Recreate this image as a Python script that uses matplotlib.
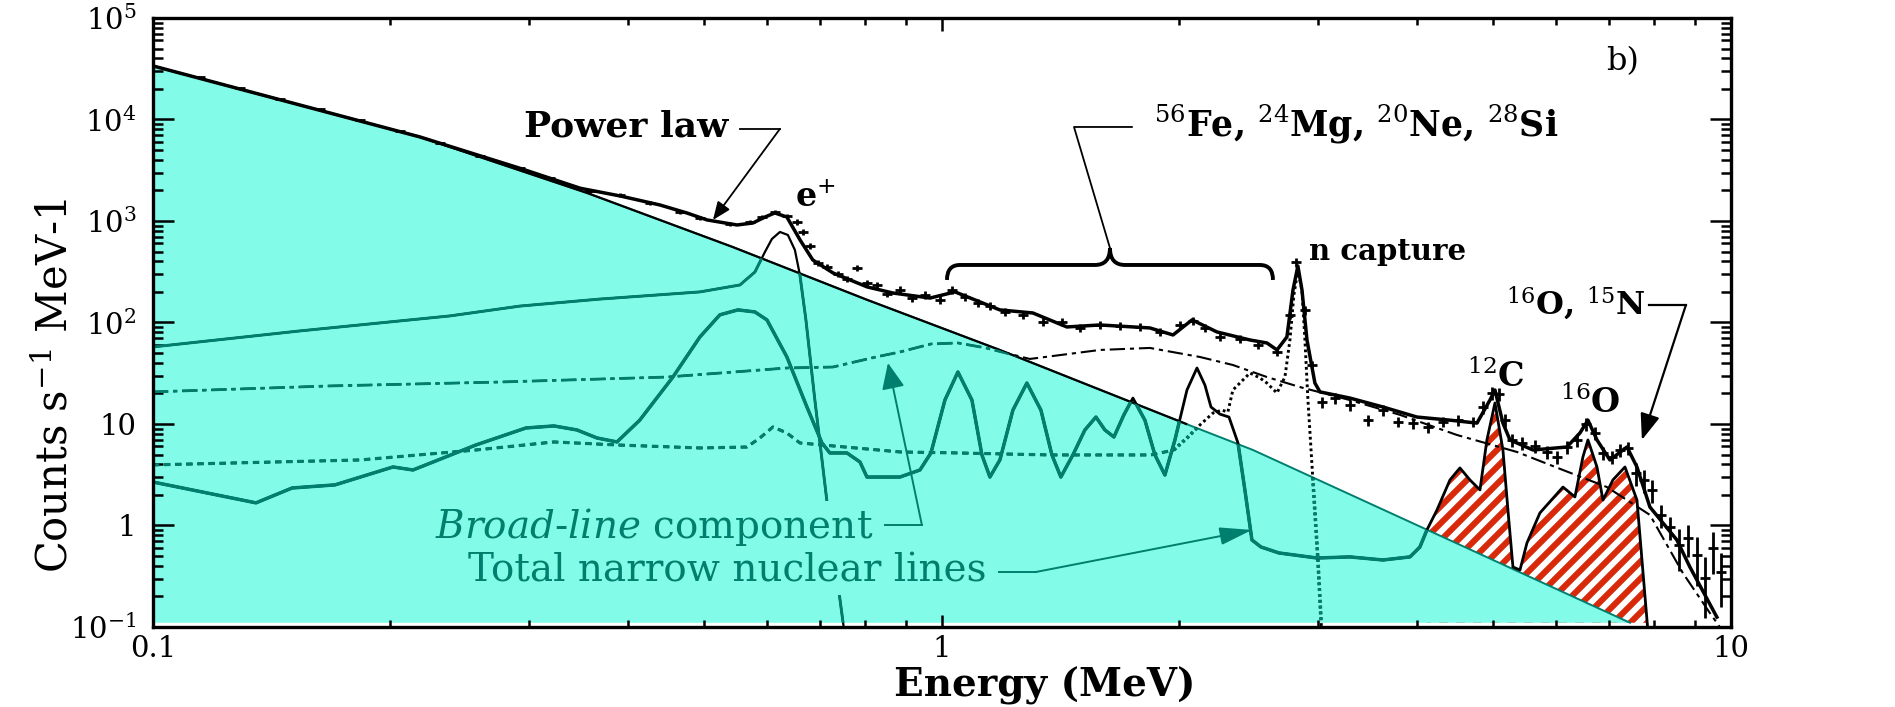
import numpy as np
import matplotlib
matplotlib.use('Agg')
import matplotlib.pyplot as plt
from matplotlib.patches import Polygon, PathPatch
from matplotlib.path import Path
from matplotlib.collections import LineCollection
import matplotlib.ticker as mticker

plt.rcParams.update({
    'font.family': 'DejaVu Serif',
    'mathtext.fontset': 'dejavuserif',
    'lines.scale_dashes': False,
})

CYAN = '#82fce8'
TEAL = '#007f6e'
RED = '#d8290b'

# power-law continuum
pl_E = [0.1, 0.218, 0.355, 0.543, 0.804, 1.184, 2.04, 2.479, 7.45]
pl_c = [33700, 6725, 1888, 554, 167, 53.6, 10.0, 5.54, 0.11]

# total fitted model
tot_E = [0.1, 0.218, 0.292, 0.348, 0.391, 0.439, 0.475, 0.504, 0.550, 0.576,
         0.597, 0.614, 0.636, 0.661, 0.686, 0.728, 0.804, 0.867, 0.966, 1.039,
         1.101, 1.184, 1.304, 1.440, 1.586, 1.835, 1.963, 2.075, 2.232, 2.457,
         2.582, 2.659, 2.737, 2.786, 2.826, 2.860, 2.902, 2.970, 3.014, 3.289,
         3.622, 4.000, 4.405, 4.766, 4.950, 5.023, 5.141, 5.248, 5.612, 6.197,
         6.437, 6.589, 6.765, 7.025, 7.384, 7.602, 7.895, 8.541, 8.872, 9.599]
tot_c = [33700, 6725, 3300, 2100, 1763, 1438, 1199, 1023, 913, 955,
         1095, 1199, 1095, 650, 413, 307, 224, 195, 174, 200,
         167, 133, 124, 90.3, 94.5, 88.3, 75.3, 106, 80.6, 67.2,
         62.8, 53.6, 72.0, 209, 360, 209, 67.2, 25.3, 20.7, 18.0,
         14.7, 11.7, 10.9, 10.2, 17.2, 21.6, 10.2, 6.96, 5.54, 5.93,
         8.15, 10.9, 6.96, 4.42, 5.93, 3.77, 1.52, 0.720, 0.390, 0.125]

# measured spectrum
dat_E = [0.1147, 0.1289, 0.1449, 0.1628, 0.1830, 0.2056, 0.2311, 0.2597, 0.2918, 0.3186,
         0.3580, 0.3908, 0.4265, 0.4654, 0.4935, 0.5386, 0.5711, 0.5914, 0.6142, 0.6361,
         0.6549, 0.6665, 0.6803, 0.6963, 0.7149, 0.7383, 0.7580, 0.7804, 0.8035, 0.8273, 0.8518,
         0.8848, 0.9164, 0.9517, 0.9942, 1.0297, 1.0696, 1.1108, 1.1504, 1.2017, 1.2667,
         1.3428, 1.4193, 1.4958, 1.5861, 1.6812, 1.7824, 1.8890, 2.0030, 2.0800, 2.1544,
         2.2510, 2.3862, 2.5148, 2.6585,
         2.7612, 2.8099, 2.8848, 2.9438,
         3.0312, 3.1486, 3.2885, 3.4674, 3.6223, 3.7838, 3.9536, 4.1305, 4.3152, 4.5082, 4.7098,
         4.8494, 4.9783, 5.0816, 5.1714, 5.2776, 5.4340, 5.6440, 5.8449, 6.0181, 6.1967,
         6.3802, 6.5497, 6.7239, 6.8839, 7.0659, 7.2326, 7.4040,
         7.5784, 7.7568, 7.9413, 8.1525, 8.3696,
         8.5918, 8.8205, 9.0551, 9.2683, 9.4885, 9.7120]
dat_c = [26230, 20430, 15920, 12690, 9888, 7703, 5868, 4370, 3327, 2652,
         1975, 1804, 1504, 1226, 1071, 934, 978, 1095, 1226, 1120,
         978, 779, 567, 386, 352, 300, 268, 344, 245, 234, 191,
         209, 174, 187, 167, 209, 178, 156, 145, 127, 119,
         101, 101, 88.3, 94.5, 92.4, 90.3, 80.6, 94.5, 103.5, 88.3,
         72.0, 68.8, 60.0, 51.2,
         119, 395, 133, 38.1,
         16.5, 18.0, 15.4, 10.9, 13.7, 10.5, 10.2, 9.34, 10.5, 10.9, 10.5,
         14.7, 20.2, 19.8, 10.9, 6.96, 6.50, 6.07, 5.30, 4.73, 5.93,
         6.96, 10.0, 8.15, 5.18, 4.73, 5.54, 5.80,
         3.29, 2.81, 2.24, 1.27, 0.967,
         0.643, 0.753, 0.512, 0.304, 0.600, 0.348]
dat_rel = [0.03] * 10 + [0.05] * 10 + [0.07] * 11 + [0.09] * 24 + [0.10] * 4 \
          + [0.12] * 11 + [0.15] * 17 + [0.25] * 5 + [0.45, 0.35, 0.5, 0.6, 0.45, 0.55]

# total narrow nuclear lines
nar_E = [0.1, 0.1351, 0.1501, 0.1701, 0.2015, 0.2136, 0.2567, 0.2970, 0.3223, 0.3447,
         0.3654, 0.3874, 0.4140, 0.4561, 0.4935, 0.5231, 0.5514, 0.5794, 0.6001, 0.6361,
         0.6744, 0.7046, 0.7211, 0.7580, 0.7873, 0.8035, 0.8848, 0.9379, 0.9685, 1.0088,
         1.0478, 1.0916, 1.1239, 1.1504, 1.1844, 1.2303, 1.2814, 1.3350, 1.3786, 1.4150,
         1.4655, 1.5178, 1.5676, 1.6091, 1.6520, 1.7008, 1.7462, 1.8083, 1.8621, 1.9171,
         1.9739, 2.0445, 2.1051, 2.1544, 2.1929, 2.2510, 2.3112, 2.3727, 2.4210, 2.4714,
         2.5371, 2.6740, 2.9878, 3.2885, 3.6223, 3.9195, 4.0351, 4.1185, 4.2408, 4.4049,
         4.5347, 4.6694, 4.8079, 4.9065, 5.0229, 5.1413, 5.2168, 5.2937, 5.4033, 5.5144,
         5.7277, 6.1257, 6.3434, 6.4931, 6.5890, 6.7646, 6.8839, 7.0871, 7.3410, 7.6022,
         7.8498]
nar_c = [2.68, 1.67, 2.34, 2.51, 3.77, 3.52, 6.21, 9.13, 9.56, 8.73,
         7.28, 6.65, 10.9, 29.0, 72.0, 119, 133, 127, 106, 45.7,
         14.7, 6.50, 5.18, 5.18, 4.22, 3.00, 3.00, 3.52, 5.18, 17.2,
         32.5, 17.2, 4.95, 3.00, 4.42, 13.7, 25.3, 13.7, 4.95, 3.00,
         4.95, 8.73, 11.7, 8.73, 7.44, 12.3, 18.0, 10.9, 4.95, 3.14,
         6.96, 21.6, 35.6, 24.2, 14.7, 12.5, 11.7, 6.50, 2.24, 0.720,
         0.614, 0.536, 0.478, 0.490, 0.457, 0.490, 0.614, 0.903, 1.42, 2.81,
         3.69, 2.81, 2.24, 6.96, 16.1, 5.54, 1.42, 0.390, 0.364, 0.672,
         1.33, 2.39, 1.91, 4.73, 6.96, 3.77, 1.78, 2.81, 3.77, 1.78,
         0.09]

# positronium continuum + 511 keV line
pos_E = [0.1, 0.1535, 0.2379, 0.2918, 0.3685, 0.4935, 0.5546, 0.5794, 0.5966, 0.6089,
         0.6233, 0.6379, 0.6511, 0.6607, 0.6724, 0.6902, 0.7171, 0.7536]
pos_c = [57.4, 82.5, 116, 145, 170, 200, 234, 314, 495, 665,
         779, 728, 518, 294, 106, 17.2, 1.42, 0.08]

# broad-line component
brd_E = [0.1, 0.1677, 0.2754, 0.4482, 0.6361, 0.7276, 0.8249, 0.8848, 0.9685, 1.0478,
         1.1371, 1.2926, 1.5861, 1.8350, 2.1233, 2.3377, 2.5819, 2.8430, 3.2885, 3.8066,
         4.4954, 5.3551, 6.1257, 6.9640, 7.8954, 8.6919, 9.4068, 10.0]
brd_c = [20.7, 23.7, 25.9, 29.0, 35.6, 36.4, 45.7, 51.2, 61.4, 62.8,
         56.1, 43.7, 53.6, 56.1, 45.7, 38.1, 29.0, 23.1, 17.2, 12.3,
         7.79, 5.30, 3.52, 2.39, 1.27, 0.340, 0.137, 0.07]

# dashed / dotted component ending in the n-capture line
dot_E = [0.1, 0.1830, 0.2567, 0.3223, 0.3874, 0.4935, 0.5661, 0.5879, 0.6107, 0.6361,
         0.6607, 0.8848, 1.0478, 1.3704, 1.8405, 1.9679, 2.0507, 2.1233, 2.2055, 2.2638,
         2.3037, 2.3377, 2.4573, 2.5295, 2.5819, 2.6585, 2.7211, 2.7612, 2.7933, 2.8263,
         2.8596, 2.8848, 2.9102, 2.9527, 2.9962, 3.0312]
dot_c = [3.95, 4.42, 5.54, 6.65, 6.21, 5.80, 5.93, 7.28, 9.34, 8.15,
         6.50, 5.30, 5.18, 4.95, 4.95, 5.54, 7.44, 9.77, 12.8, 13.7,
         13.1, 21.6, 31.8, 28.4, 25.3, 20.2, 29.0, 67.2, 187, 329,
         209, 67.2, 17.2, 2.81, 0.457, 0.08]

ytick_vals = [1e-1, 1, 10, 1e2, 1e3, 1e4, 1e5]
ytick_labels = [r'$10^{-1}$', '1', '10', r'$10^{2}$', r'$10^{3}$', r'$10^{4}$', r'$10^{5}$']
xtick_vals = [0.1, 1, 10]
xtick_labels = ['0.1', '1', '10']

fig = plt.figure(figsize=(18.95, 7.07), dpi=100)
ax = fig.add_axes([0.0807, 0.1132, 0.8327, 0.8614])
ax.set_xscale('log')
ax.set_yscale('log')
ax.set_xlim(0.1, 10)
ax.set_ylim(0.1, 1e5)

# 12C / 16O lines above the continuum: white area with red stripes
nE = np.array(nar_E)
nc = np.array(nar_c)
sel = nE >= 4.1
hfill = ax.fill_between(nE[sel], nc[sel], 0.11, facecolor='white', edgecolor='none',
                        zorder=1)
offs = np.arange(-8.0, 19.5, 0.17)
stripes = LineCollection([[(o, 0.0), (o + 7.5, 7.5)] for o in offs], colors=RED,
                         linewidths=4.4, transform=fig.dpi_scale_trans, zorder=1.1)
ax.add_collection(stripes, autolim=False)
stripes.set_clip_path(hfill.get_paths()[0], hfill.get_transform())

# cyan power-law area
cyan = Polygon(np.column_stack([pl_E + [pl_E[0]], pl_c + [0.11]]), closed=True,
               facecolor=CYAN, edgecolor='none', zorder=1.5)
ax.add_patch(cyan)
ax.plot(pl_E, pl_c, color=TEAL, lw=1.4, zorder=1.6)
ax.plot(pl_E[:7], pl_c[:7], color='black', lw=1.6, zorder=2.2)


def two_tone(x, y, lw, z, **kw):
    # black outside the cyan area, teal inside it
    ax.plot(x, y, color='black', lw=lw, zorder=z, **kw)
    t, = ax.plot(x, y, color=TEAL, lw=lw + 0.5, zorder=z + 0.01, **kw)
    t.set_clip_path(cyan)


two_tone(brd_E, brd_c, 1.5, 2.5, dashes=(11, 3.5, 3, 3.5))
two_tone(dot_E[:16], dot_c[:16], 1.8, 2.6, dashes=(4.5, 3.5))
two_tone(dot_E[15:], dot_c[15:], 2.1, 2.6, dashes=(2, 2.2))
two_tone(pos_E, pos_c, 1.6, 2.7)
two_tone(nar_E, nar_c, 2.0, 2.8)

ax.plot(tot_E, tot_c, color='black', lw=2.5, zorder=4)
dE = np.array(dat_E)
dc = np.array(dat_c)
ax.errorbar(dE, dc, xerr=dE * 0.015, yerr=dc * np.array(dat_rel), fmt='none',
            ecolor='black', elinewidth=2.0, capsize=0, zorder=4)

# axes styling
ax.set_yticks(ytick_vals)
ax.set_yticklabels(ytick_labels)
ax.set_xticks(xtick_vals)
ax.set_xticklabels(xtick_labels)
ax.xaxis.set_minor_formatter(mticker.NullFormatter())
ax.yaxis.set_minor_formatter(mticker.NullFormatter())
ax.tick_params(which='both', direction='in', top=True, right=True, width=1.8)
ax.tick_params(axis='y', which='major', length=15, pad=12, labelsize=21)
ax.tick_params(axis='y', which='minor', length=7)
ax.tick_params(axis='x', which='major', length=9, pad=6, labelsize=21)
ax.tick_params(axis='x', which='minor', length=5)
for s in ax.spines.values():
    s.set_linewidth(2.4)
    s.set_zorder(7)

ax.set_xlabel('Energy (MeV)', fontsize=28, fontweight='bold', va='baseline')
ax.xaxis.set_label_coords(0.565, -0.1149)
ax.set_ylabel(r'Counts s$^{-1}$ MeV-1', fontsize=30, va='center', ha='center')
ax.yaxis.set_label_coords(-0.062, 0.397)

# labels
tk = dict(transform=ax.transAxes, zorder=8)
ax.text(0.3644, 0.8046, 'Power law', ha='right', va='baseline', fontsize=26,
        fontweight='bold', **tk)
ax.text(0.4068, 0.6897, r'e$^{+}$', ha='left', va='baseline', fontsize=24,
        fontweight='bold', **tk)
ax.text(0.6343, 0.8046, r'$^{56}$Fe, $^{24}$Mg, $^{20}$Ne, $^{28}$Si', ha='left',
        va='baseline', fontsize=25, fontweight='bold', **tk)
ax.text(0.7326, 0.6026, 'n capture', ha='left', va='baseline', fontsize=21,
        fontweight='bold', **tk)
ax.text(0.8511, 0.3941, r'$^{12}$C', ha='center', va='baseline', fontsize=24,
        fontweight='bold', **tk)
ax.text(0.9106, 0.3514, r'$^{16}$O', ha='center', va='baseline', fontsize=24,
        fontweight='bold', **tk)
ax.text(0.9455, 0.5123, r'$^{16}$O, $^{15}$N', ha='right', va='baseline', fontsize=23,
        fontweight='bold', **tk)
ax.text(0.9208, 0.9146, 'b)', ha='left', va='baseline', fontsize=23, **tk)
box = dict(boxstyle='square,pad=0.12', facecolor=CYAN, edgecolor='none')
ax.text(0.4563, 0.1461, r'$\mathit{Broad}$-$\mathit{line}$ component', ha='right',
        va='baseline', fontsize=28, color=TEAL, bbox=box, **tk)
ax.text(0.5285, 0.0739, 'Total narrow nuclear lines', ha='right', va='baseline',
        fontsize=28, color=TEAL, bbox=box, **tk)


def leader(pts, tip, color, lw, hl, hw):
    xs, ys = zip(*pts)
    ax.plot(xs, ys, color=color, lw=lw, transform=ax.transAxes, zorder=8)
    ax.annotate('', xy=tip, xycoords='axes fraction', xytext=pts[-1],
                textcoords='axes fraction', zorder=8,
                arrowprops=dict(arrowstyle='-|>,head_length=%g,head_width=%g' % (hl, hw),
                                color=color, lw=lw, shrinkA=0, shrinkB=0))


leader([(0.3720, 0.8177), (0.3973, 0.8177)], (0.3549, 0.6683), 'black', 1.3, 1.1, 0.45)
leader([(0.9480, 0.5287), (0.9715, 0.5287)], (0.9436, 0.3071), 'black', 1.6, 1.6, 0.6)
leader([(0.4639, 0.1675), (0.4873, 0.1675)], (0.4658, 0.4335), TEAL, 1.4, 1.6, 0.7)
leader([(0.5361, 0.0903), (0.5596, 0.0903)], (0.6965, 0.1593), TEAL, 1.4, 2.0, 0.55)
ax.plot([0.6065, 0.5837, 0.6204], [0.6223, 0.8210, 0.8210], color='black', lw=1.3,
        transform=ax.transAxes, zorder=8)

# curly brace over the Fe/Mg/Ne/Si lines
bx = [0.5032, 0.5032, 0.5114, 0.5970, 0.6065, 0.6065, 0.6065, 0.6160, 0.7015, 0.7098, 0.7098]
by = [0.5698, 0.5944, 0.5944, 0.5944, 0.5944, 0.6223, 0.5944, 0.5944, 0.5944, 0.5944, 0.5698]
codes = [Path.MOVETO, Path.CURVE3, Path.CURVE3, Path.LINETO, Path.CURVE3, Path.CURVE3,
         Path.CURVE3, Path.CURVE3, Path.LINETO, Path.CURVE3, Path.CURVE3]
brace = PathPatch(Path(np.column_stack([bx, by]), codes), facecolor='none',
                  edgecolor='black', lw=2.8, transform=ax.transAxes, zorder=8)
ax.add_patch(brace)

fig.savefig('out.png', dpi=100)
